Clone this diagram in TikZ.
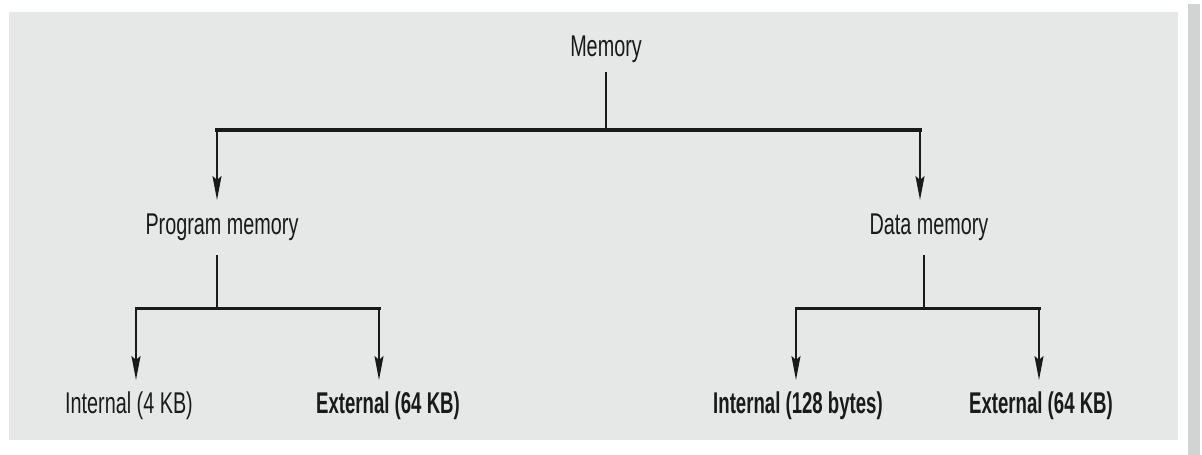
\documentclass[tikz,border=0pt]{standalone}
\usepackage{fontspec}
\newfontfamily\condreg[FakeStretch=0.66]{Liberation Sans}
\newfontfamily\condbold[FakeStretch=0.62]{Liberation Sans Bold}
\usetikzlibrary{arrows.meta}
\definecolor{bggray}{HTML}{E6E7E7}
\definecolor{bargray}{HTML}{D2D3D3}
\definecolor{ink}{HTML}{1A1A1A}
\tikzset{
  lbl/.style={inner sep=0pt, outer sep=0pt, anchor=north, text=ink, text height=21pt, text depth=5pt},
  lblreg/.style={lbl, font=\condreg\fontsize{30}{32}\selectfont},
  lblbold/.style={lbl, font=\condbold\fontsize{30}{32}\selectfont},
  stem/.style={draw=ink, line width=2pt},
  bar/.style={draw=ink, line width=3pt, line cap=rect},
  topbar/.style={draw=ink, line width=4pt, line cap=rect},
  arr/.style={draw=ink, line width=2pt, -{Stealth[length=24pt,width=9pt,inset=4pt]}}
}
\begin{document}
\begin{tikzpicture}[x=1pt,y=-1pt]
\useasboundingbox (0,0) rectangle (1202,455);
\fill[white] (0,0) rectangle (1202,455);
\fill[bggray] (9,12) rectangle (1178,440);
\fill[bargray] (1188,4) rectangle (1200,455);

\node[lblreg] (mem) at (606,35) {Memory};
\node[lblreg] (prog) at (222,213) {Program memory};
\node[lblreg] (data) at (929,213) {Data memory};
\node[lblreg] (pint) at (129,392) {Internal (4 KB)};
\node[lblbold] (pext) at (388,392) {External (64 KB)};
\node[lblbold] (dint) at (798,392) {Internal (128 bytes)};
\node[lblbold] (dext) at (1041,392) {External (64 KB)};

\coordinate (jtop) at (606,130);
\coordinate (jl) at (217,130);
\coordinate (jr) at (920,130);
\coordinate (pj) at (217,308);
\coordinate (pjl) at (136,308);
\coordinate (pjr) at (379,308);
\coordinate (dj) at (924,308);
\coordinate (djl) at (796,308);
\coordinate (djr) at (1039,308);

\draw[stem, shorten <=11pt] (mem.south) -- (jtop);
\draw[topbar] (jl) -- (jr);
\draw[arr, shorten >=13pt] (jl) -- (jl |- prog.north);
\draw[arr, shorten >=13pt] (jr) -- (jr |- data.north);

\draw[stem, shorten <=16pt] (pj |- prog.south) -- (pj);
\draw[bar] (pjl) -- (pjr);
\draw[arr, shorten >=12pt] (pjl) -- (pjl |- pint.north);
\draw[arr, shorten >=12pt] (pjr) -- (pjr |- pext.north);

\draw[stem, shorten <=16pt] (dj |- data.south) -- (dj);
\draw[bar] (djl) -- (djr);
\draw[arr, shorten >=12pt] (djl) -- (djl |- dint.north);
\draw[arr, shorten >=12pt] (djr) -- (djr |- dext.north);
\end{tikzpicture}
\end{document}
